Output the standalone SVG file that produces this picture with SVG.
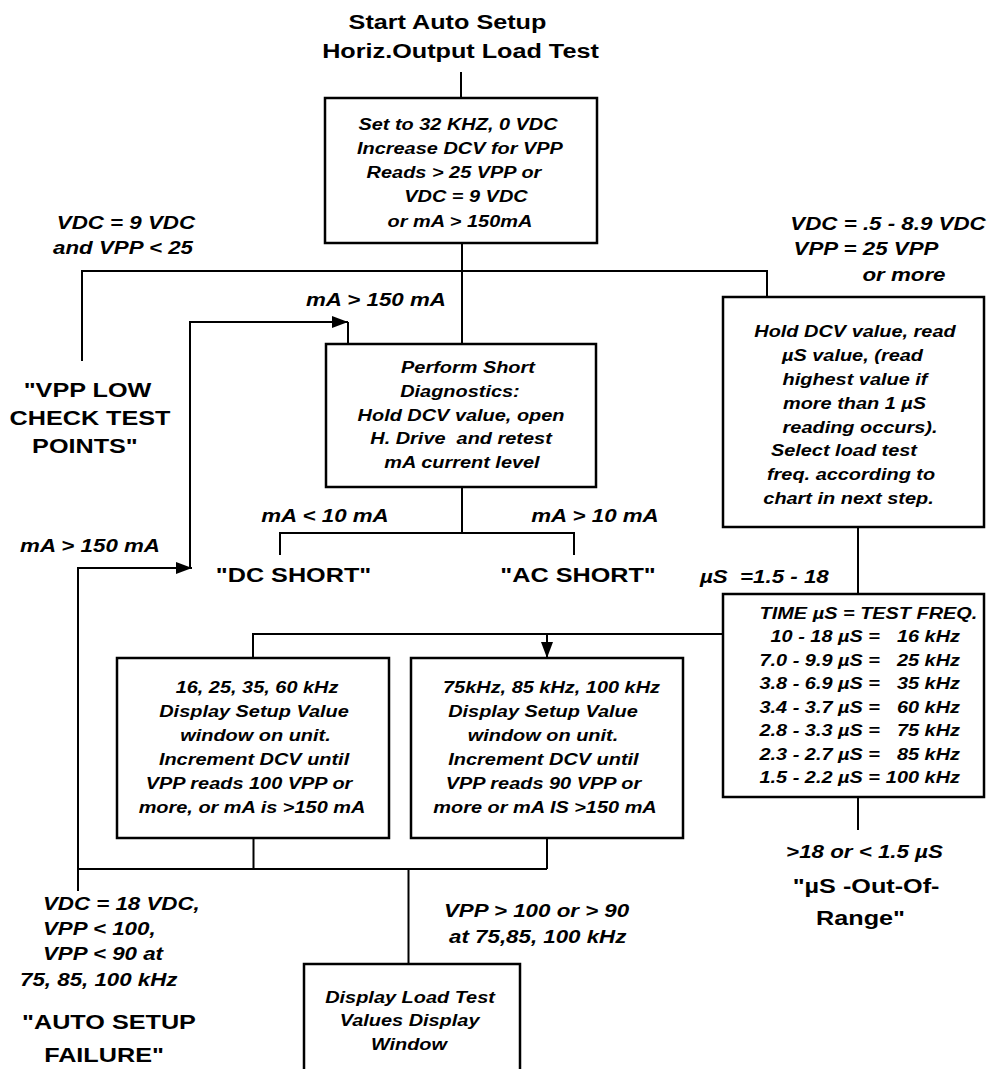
<svg xmlns="http://www.w3.org/2000/svg" width="989" height="1069" viewBox="0 0 989 1069">
<style>
.box{fill:#fff;stroke:#000;stroke-width:2.5}
.ln{fill:none;stroke:#000;stroke-width:2}
text{font-family:"Liberation Sans",Arial,sans-serif;font-weight:bold;fill:#000}
.bt{font-size:21px;text-anchor:middle}
.it{font-size:16.6px;font-style:italic;text-anchor:middle}
.lb{font-size:18.6px;font-style:italic;text-anchor:middle}
.st{text-anchor:start}
.en{text-anchor:end}
.pre{white-space:pre}
</style>
<defs>
<marker id="ah" markerUnits="userSpaceOnUse" markerWidth="17" markerHeight="12" refX="16" refY="6" orient="auto">
<path d="M0,0 L16,6 L0,12 z" fill="#000"/>
</marker>
</defs>
<rect width="989" height="1069" fill="#fff"/>

<g id="connectors">
<path class="ln" d="M461,72 V98"/>
<path class="ln" d="M462,243 V344"/>
<path class="ln" d="M82,361 V271 H767 V297"/>
<path class="ln" d="M190,568 V322 H348" marker-end="url(#ah)"/>
<path class="ln" d="M348,322 V344"/>
<path class="ln" d="M78,891 V568 H192" marker-end="url(#ah)"/>
<path class="ln" d="M462,487 V533 M280,555 V533 H574 V555"/>
<path class="ln" d="M858,527 V594"/>
<path class="ln" d="M723,634 H253 V658"/>
<path class="ln" d="M547,634 V658" marker-end="url(#ah)"/>
<path class="ln" d="M858,797 V830"/>
<path class="ln" d="M253.5,838 V869 M547,838 V869 M78,869 H547 M408.5,869 V964"/>
<g transform="scale(1.2,1)">
<text class="lb en" x="162.5" y="229">VDC = 9 VDC</text>
<text class="lb en" x="160.8" y="254">and VPP &lt; 25</text>
<text class="lb" x="740" y="230">VDC = .5 - 8.9 VDC</text>
<text class="lb" x="721.7" y="255">VPP = 25 VPP</text>
<text class="lb" x="753.3" y="281">or more</text>
<text class="lb" x="313.3" y="306">mA &gt; 150 mA</text>
<text class="lb" x="270.8" y="522">mA &lt; 10 mA</text>
<text class="lb" x="495.8" y="522">mA &gt; 10 mA</text>
<text class="lb" x="75" y="552">mA &gt; 150 mA</text>
<text class="lb st pre" x="583.3" y="583">µS  =1.5 - 18</text>
<text class="lb" x="720.4" y="858">&gt;18 or &lt; 1.5 µS</text>
<text class="lb st" x="35.8" y="910">VDC = 18 VDC,</text>
<text class="lb st" x="35.8" y="935">VPP &lt; 100,</text>
<text class="lb st" x="35.8" y="960">VPP &lt; 90 at</text>
<text class="lb st" x="16.7" y="986">75, 85, 100 kHz</text>
<text class="lb st" x="370" y="917">VPP &gt; 100 or &gt; 90</text>
<text class="lb st" x="374.2" y="943">at 75,85, 100 kHz</text>
</g>
</g>

<g id="title">
<g transform="scale(1.2,1)">
<text class="bt" x="372.9" y="29">Start Auto Setup</text>
<text class="bt" x="383.75" y="58">Horiz.Output Load Test</text>
</g>
</g>

<g id="setup-box">
<rect class="box" x="325" y="98" width="272" height="145"/>
<g transform="scale(1.2,1)">
<text class="it" x="381.7" y="130">Set to 32 KHZ, 0 VDC</text>
<text class="it" x="383.3" y="154">Increase DCV for VPP</text>
<text class="it" x="378.3" y="178">Reads &gt; 25 VPP or</text>
<text class="it" x="388.3" y="202">VDC = 9 VDC</text>
<text class="it" x="383.3" y="227">or mA &gt; 150mA</text>
</g>
</g>

<g id="vpp-low">
<g transform="scale(1.2,1)">
<text class="bt" x="72.9" y="397">"VPP LOW</text>
<text class="bt" x="75" y="425">CHECK TEST</text>
<text class="bt" x="70.8" y="453">POINTS"</text>
</g>
</g>

<g id="short-diag-box">
<rect class="box" x="326" y="344" width="270" height="143"/>
<g transform="scale(1.2,1)">
<text class="it" x="390" y="373">Perform Short</text>
<text class="it" x="383.3" y="397">Diagnostics:</text>
<text class="it" x="384.2" y="421">Hold DCV value, open</text>
<text class="it pre" x="384.2" y="444">H. Drive  and retest</text>
<text class="it" x="385" y="468">mA current level</text>
</g>
</g>

<g id="hold-dcv-box">
<rect class="box" x="723" y="297" width="261" height="230"/>
<g transform="scale(1.2,1)">
<text class="it" x="712.5" y="337">Hold DCV value, read</text>
<text class="it" x="710.4" y="361">µS value, (read</text>
<text class="it" x="712.5" y="385">highest value if</text>
<text class="it" x="712.1" y="409">more than 1 µS</text>
<text class="it" x="716.7" y="433">reading occurs).</text>
<text class="it" x="703.3" y="456">Select load test</text>
<text class="it" x="709.2" y="480">freq. according to</text>
<text class="it" x="707.1" y="504">chart in next step.</text>
</g>
</g>

<g id="dc-short">
<g transform="scale(1.2,1)">
<text class="bt" x="244.6" y="582">"DC SHORT"</text>
</g>
</g>

<g id="ac-short">
<g transform="scale(1.2,1)">
<text class="bt" x="481.7" y="582">"AC SHORT"</text>
</g>
</g>

<g id="freq-chart-box">
<rect class="box" x="723" y="594" width="261" height="203"/>
<g transform="scale(1.2,1)">
<text class="it" x="723.75" y="619">TIME µS = TEST FREQ.</text>
<text class="it en" x="733.3" y="642.5">10 - 18 µS =</text>
<text class="it en" x="800" y="642.5">16 kHz</text>
<text class="it en" x="733.3" y="666">7.0 - 9.9 µS =</text>
<text class="it en" x="800" y="666">25 kHz</text>
<text class="it en" x="733.3" y="689.5">3.8 - 6.9 µS =</text>
<text class="it en" x="800" y="689.5">35 kHz</text>
<text class="it en" x="733.3" y="713">3.4 - 3.7 µS =</text>
<text class="it en" x="800" y="713">60 kHz</text>
<text class="it en" x="733.3" y="736.5">2.8 - 3.3 µS =</text>
<text class="it en" x="800" y="736.5">75 kHz</text>
<text class="it en" x="733.3" y="760">2.3 - 2.7 µS =</text>
<text class="it en" x="800" y="760">85 kHz</text>
<text class="it en" x="733.3" y="783.5">1.5 - 2.2 µS =</text>
<text class="it en" x="800" y="783.5">100 kHz</text>
</g>
</g>

<g id="low-freq-box">
<rect class="box" x="117" y="658" width="272" height="180"/>
<g transform="scale(1.2,1)">
<text class="it" x="214.2" y="693">16, 25, 35, 60 kHz</text>
<text class="it" x="211.7" y="717">Display Setup Value</text>
<text class="it" x="212.9" y="741">window on unit.</text>
<text class="it" x="211.7" y="765">Increment DCV until</text>
<text class="it" x="207.5" y="789">VPP reads 100 VPP or</text>
<text class="it" x="210" y="813">more, or mA is &gt;150 mA</text>
</g>
</g>

<g id="high-freq-box">
<rect class="box" x="411" y="658" width="272" height="180"/>
<g transform="scale(1.2,1)">
<text class="it" x="459.6" y="693">75kHz, 85 kHz, 100 kHz</text>
<text class="it" x="452.5" y="717">Display Setup Value</text>
<text class="it" x="452.5" y="741">window on unit.</text>
<text class="it" x="452.9" y="765">Increment DCV until</text>
<text class="it" x="452.9" y="789">VPP reads 90 VPP or</text>
<text class="it" x="454.2" y="813">more or mA IS &gt;150 mA</text>
</g>
</g>

<g id="out-of-range">
<g transform="scale(1.2,1)">
<text class="bt" x="721.7" y="893">"µS -Out-Of-</text>
<text class="bt" x="717.1" y="925">Range"</text>
</g>
</g>

<g id="auto-setup-failure">
<g transform="scale(1.2,1)">
<text class="bt" x="90.8" y="1029">"AUTO SETUP</text>
<text class="bt" x="86.7" y="1062">FAILURE"</text>
</g>
</g>

<g id="load-test-box">
<rect class="box" x="304" y="964" width="216" height="120"/>
<g transform="scale(1.2,1)">
<text class="it" x="341.7" y="1003">Display Load Test</text>
<text class="it" x="341.3" y="1026.5">Values Display</text>
<text class="it" x="340.8" y="1050">Window</text>
</g>
</g>
</svg>
